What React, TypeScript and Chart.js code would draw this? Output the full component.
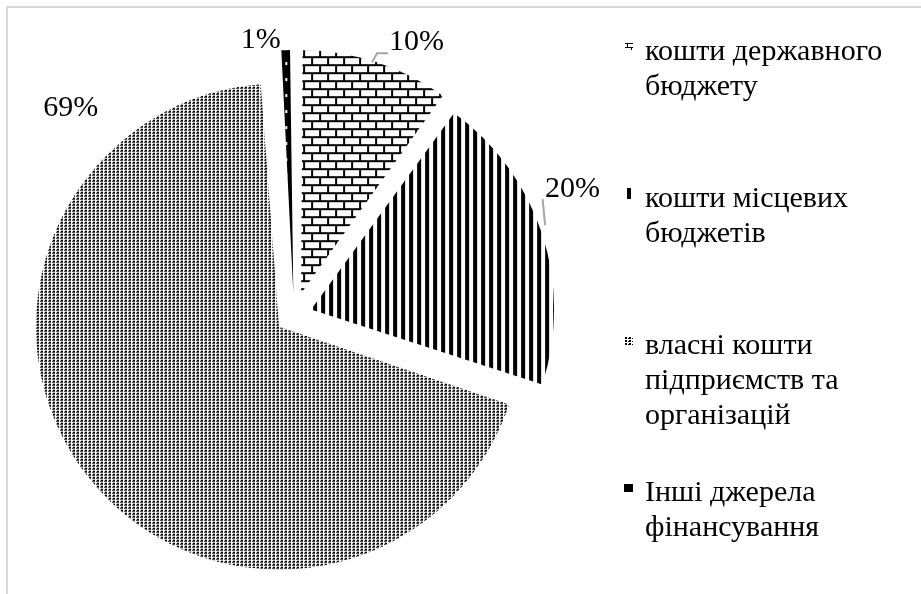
import React, { useEffect, useRef } from 'react';
import { Chart, registerables, ArcElement } from 'chart.js';

Chart.register(...registerables);

// ---- data ----
const categories = [
  'кошти державного бюджету',
  'кошти місцевих бюджетів',
  'власні кошти підприємств та організацій',
  'Інші джерела фінансування',
];
const legendLines = [
  ['кошти державного', 'бюджету'],
  ['кошти місцевих', 'бюджетів'],
  ['власні кошти', 'підприємств та', 'організацій'],
  ['Інші джерела', 'фінансування'],
];
const shares = [10, 20, 69, 1];
const percentLabels = ['10%', '20%', '69%', '1%'];

// Keep exploded slices at the same radius (translate only)
const origArcDraw = ArcElement.prototype.draw;
(ArcElement.prototype as any).draw = function (ctx: CanvasRenderingContext2D) {
  const t = ((this.options && this.options.offset) || 0) / 4;
  const circ = this.circumference;
  const fix = 1 - Math.sin(Math.min(Math.PI, circ || 0));
  const r = this.outerRadius;
  this.outerRadius = r - t * fix;
  origArcDraw.call(this, ctx);
  this.outerRadius = r;
};

function makeTile(w: number, h: number, paint: (c: CanvasRenderingContext2D) => void) {
  const cv = document.createElement('canvas');
  cv.width = w;
  cv.height = h;
  const c = cv.getContext('2d')!;
  paint(c);
  return cv;
}

function makePatterns(ctx: CanvasRenderingContext2D) {
  const brick = makeTile(16, 16, (c) => {
    c.fillStyle = '#fff';
    c.fillRect(0, 0, 16, 16);
    c.fillStyle = '#000';
    c.fillRect(0, 6, 16, 2);
    c.fillRect(0, 14, 16, 2);
    c.fillRect(0, 0, 2, 8);
    c.fillRect(8, 8, 2, 8);
  });
  const stripes = makeTile(8, 8, (c) => {
    c.fillStyle = '#fff';
    c.fillRect(0, 0, 8, 8);
    c.fillStyle = '#000';
    c.fillRect(0, 0, 4, 8);
  });
  const dots = makeTile(4, 3, (c) => {
    c.fillStyle = '#fff';
    c.fillRect(0, 0, 4, 3);
    c.fillStyle = '#000';
    c.fillRect(0, 0, 2, 2);
    c.fillRect(3, 1, 1, 1);
  });
  const darkDots = makeTile(16, 16, (c) => {
    c.fillStyle = '#000';
    c.fillRect(0, 0, 16, 16);
    c.fillStyle = '#fff';
    c.fillRect(14, 4, 2, 3);
  });
  return [brick, stripes, dots, darkDots].map((t) => ctx.createPattern(t, 'repeat')!);
}

const FONT = '30px "Liberation Serif", "Times New Roman", serif';

export default function App() {
  const ref = useRef<HTMLCanvasElement>(null);

  useEffect(() => {
    const canvas = ref.current!;
    const ctx = canvas.getContext('2d')!;
    const patterns = makePatterns(ctx);

    // polar placement of percentage labels (deg clockwise from top, distance from pie centre)
    const labelPolar = [
      [24.2, 299],
      [65.7, 305.7],
      [312.9, 304.6],
      [353.1, 277],
    ];
    const leaders: Record<number, number[][]> = {
      0: [[-44.5, 20], [-39.5, 11], [-28.5, 11]],
      1: [[-27.5, 36], [-30, 10]],
    };
    // small legend keys: x, y offset from baseline, width, height
    const keyBox = [
      [625, -17, 8, 7],
      [627, -19, 5, 11],
      [625, -17, 8, 8],
      [624, -17, 9, 8],
    ];
    // pattern phase and scale inside each key
    const keyPhase = [
      [4, 6, 0.5],
      [0, 0, 1],
      [0, 0, 1],
      [-12, -4, 1],
    ];

    const framePlugin = {
      id: 'frame',
      beforeDraw(chart: any) {
        const c = chart.ctx;
        c.save();
        c.fillStyle = '#fff';
        c.fillRect(0, 0, chart.width, chart.height);
        c.fillStyle = '#d9d9d9';
        c.fillRect(6, 6, chart.width, 2);
        c.fillRect(6, 6, 2, chart.height);
        c.restore();
      },
    };

    const labelPlugin = {
      id: 'pctLabels',
      afterDatasetsDraw(chart: any) {
        const meta = chart.getDatasetMeta(0);
        const c = chart.ctx;
        c.save();
        c.font = FONT;
        c.fillStyle = '#000';
        c.textAlign = 'center';
        c.textBaseline = 'middle';
        meta.data.forEach((arc: any, i: number) => {
          const [deg, dist] = labelPolar[i];
          const a = (deg * Math.PI) / 180;
          const lx = arc.x + dist * Math.sin(a);
          const ly = arc.y - dist * Math.cos(a);
          const pts = leaders[i];
          if (pts) {
            c.strokeStyle = '#a6a6a6';
            c.lineWidth = 2;
            c.beginPath();
            pts.forEach(([dx, dy], k) => {
              if (k === 0) c.moveTo(lx + dx, ly + dy);
              else c.lineTo(lx + dx, ly + dy);
            });
            c.stroke();
          }
          c.fillText(percentLabels[i], lx, ly);
        });
        c.restore();
      },
    };

    const legendPlugin = {
      id: 'sideLegend',
      afterDraw(chart: any) {
        const c = chart.ctx;
        c.save();
        c.font = FONT;
        c.fillStyle = '#000';
        c.textAlign = 'left';
        c.textBaseline = 'alphabetic';
        const textX = 645;
        const firstBase = 60;
        const pitch = 147;
        const lineH = 35;
        legendLines.forEach((lines, i) => {
          const base = firstBase + i * pitch;
          const [kx, ky, kw, kh] = keyBox[i];
          const [px, py, s] = keyPhase[i];
          c.save();
          c.translate(kx, base + ky);
          c.scale(s, s);
          c.translate(-px, -py);
          c.fillStyle = patterns[i];
          c.fillRect(px, py, kw / s, kh / s);
          c.restore();
          lines.forEach((ln, k) => {
            c.fillText(ln, textX, base + k * lineH);
          });
        });
        c.restore();
      },
    };

    const chart = new Chart(canvas, {
      type: 'pie',
      data: {
        labels: categories,
        datasets: [
          {
            data: shares,
            backgroundColor: patterns,
            borderWidth: 0,
            offset: [92, 72, 76, 88],
            radius: 243,
          } as any,
        ],
      },
      options: {
        responsive: false,
        animation: false,
        devicePixelRatio: 1,
        events: [],
        layout: { padding: { left: 0, top: 36, right: 333, bottom: 0 } },
        plugins: {
          legend: { display: false },
          title: { display: false },
          tooltip: { enabled: false },
        },
      },
      plugins: [framePlugin, labelPlugin, legendPlugin],
    });
    return () => chart.destroy();
  }, []);

  return (
    <div style={{ position: 'absolute', left: 0, top: 0, width: 921, height: 594, background: '#fff' }}>
      <canvas ref={ref} width={921} height={594} style={{ display: 'block' }} />
    </div>
  );
}
